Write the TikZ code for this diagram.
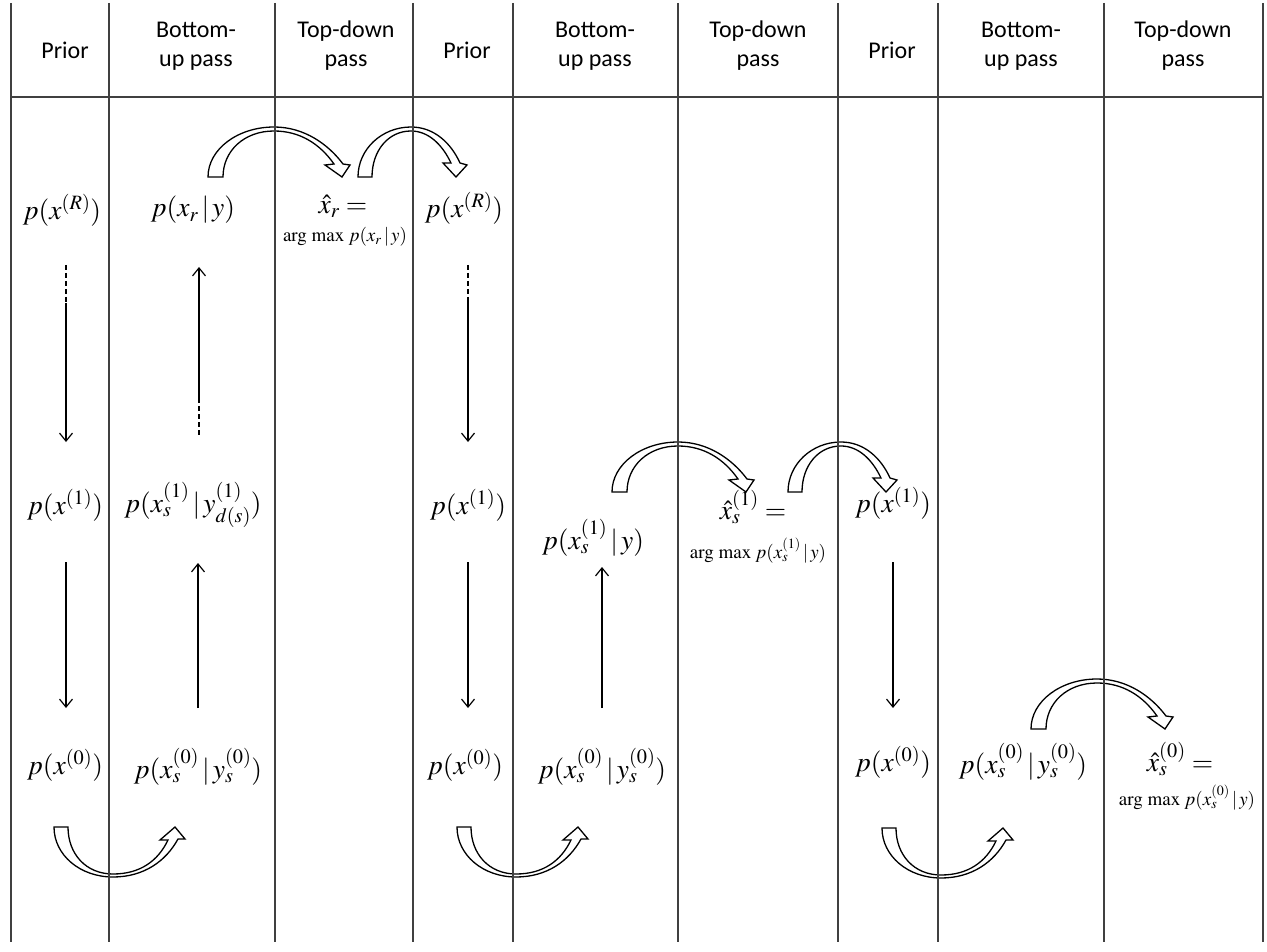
\documentclass[tikz,border=0pt]{standalone}
\usepackage{mathptmx}
\usepackage[no-math]{fontspec}
\setmainfont{Liberation Serif}
\newfontfamily\hdrfont{Carlito}
\usetikzlibrary{arrows.meta}

\tikzset{
  col/.style={draw=black!75, line width=1.3pt},
  flow/.style={line width=1.2pt, -{Straight Barb[length=8pt,width=13pt,line width=1.2pt]}},
  gapline/.style={line width=1.2pt, dash pattern=on 5pt off 3pt},
  barrow/.style={draw=black, line width=1.3pt, fill=white, line join=miter},
  hdr/.style={font=\hdrfont\fontsize{24}{29}\selectfont, align=center, inner sep=0pt},
  eq/.style={font=\fontsize{27.5}{30}\selectfont, inner sep=0pt},
  small/.style={font=\fontsize{19}{22}\selectfont, inner sep=0pt},
  % curved hollow arrow over a column border, long span
  longarc/.pic={
    \draw[barrow] (0,0) .. controls (0,-28) and (30,-50) .. (66,-50)
      .. controls (96,-50) and (120,-33) .. (135,-13)
      -- (142,-12) -- (134,0) -- (117,-12) -- (126,-13)
      .. controls (112,-33) and (92,-46) .. (66,-46)
      .. controls (36,-46) and (15,-26) .. (15,0) -- cycle;
  },
  % curved hollow arrow over a column border, short span
  shortarc/.pic={
    \draw[barrow] (0,0) .. controls (0,-28) and (24,-50) .. (53,-50)
      .. controls (76,-50) and (93,-34) .. (102,-14)
      -- (109,-12) -- (98,0) -- (85,-14) -- (93,-14)
      .. controls (84,-33) and (70,-46) .. (53,-46)
      .. controls (30,-46) and (14,-26) .. (14,0) -- cycle;
  },
  % curved hollow arrow below the bottom row
  lowarc/.pic={
    \draw[barrow] (0,0) .. controls (0,28) and (26,50) .. (59,50)
      .. controls (90,50) and (112,34) .. (124,12)
      -- (131,12) -- (121,0) -- (106,13) -- (114,13)
      .. controls (104,34) and (86,47) .. (59,47)
      .. controls (32,47) and (14,27) .. (14,0) -- cycle;
  },
}

\begin{document}
\begin{tikzpicture}[x=1pt,y=-1pt]
\useasboundingbox (0,0) rectangle (1267,952);

% hollow transfer arrows
\pic at (208,177) {longarc};
\pic at (358,177) {shortarc};
\pic at (612,492) {longarc};
\pic at (788,492) {shortarc};
\pic at (1031,729) {longarc};
\pic at (54,827) {lowarc};
\pic at (457,827) {lowarc};
\pic at (882,828) {lowarc};

% table rules
\foreach \x in {11,109,275,413,513,678,838,938,1104,1263}
  \draw[col] (\x,3) -- (\x,942);
\draw[col] (11,97) -- (1263,97);

% column headings
\node[hdr] (h1p) at (65,50) {Prior};
\node[hdr] (h1b) at (196,46) {Bottom-\\up pass};
\node[hdr] (h1t) at (346,46) {Top-down\\pass};
\node[hdr] (h2p) at (467,50) {Prior};
\node[hdr] (h2b) at (595,46) {Bottom-\\up pass};
\node[hdr] (h2t) at (758,46) {Top-down\\pass};
\node[hdr] (h3p) at (892,50) {Prior};
\node[hdr] (h3b) at (1021,46) {Bottom-\\up pass};
\node[hdr] (h3t) at (1183,46) {Top-down\\pass};

% first sweep
\node[eq] (aR) at (62,210) {$p(x^{(R)})$};
\node[eq] (aXr) at (193,210) {$p(x_r\,|\,y)$};
\node[eq] (aHat) at (343,206) {$\hat{x}_r =$};
\node[small] (aArg) at (345,237) {$\mathrm{arg\ max}\; p(x_r\,|\,y)$};
\node[eq] (a1) at (65,505) {$p(x^{(1)})$};
\node[eq] (aX1) at (193,505) {$p(x_s^{(1)}\,|\,y_{d(s)}^{(1)})$};
\node[eq] (a0) at (65,765) {$p(x^{(0)})$};
\node[eq] (aX0) at (198,767) {$p(x_s^{(0)}\,|\,y_s^{(0)})$};

% second sweep
\node[eq] (bR) at (464,208) {$p(x^{(R)})$};
\node[eq] (b1) at (468,505) {$p(x^{(1)})$};
\node[eq] (bX1) at (593,538) {$p(x_s^{(1)}\,|\,y)$};
\node[eq] (bHat) at (753,507) {$\hat{x}_s^{(1)} =$};
\node[small] (bArg) at (758,551) {$\mathrm{arg\ max}\; p(x_s^{(1)}\,|\,y)$};
\node[eq] (b0) at (465,765) {$p(x^{(0)})$};
\node[eq] (bX0) at (602,767) {$p(x_s^{(0)}\,|\,y_s^{(0)})$};

% third sweep
\node[eq] (c1) at (893,503) {$p(x^{(1)})$};
\node[eq] (c0) at (893,762) {$p(x^{(0)})$};
\node[eq] (cX0) at (1023,762) {$p(x_s^{(0)}\,|\,y_s^{(0)})$};
\node[eq] (cHat) at (1180,759) {$\hat{x}_s^{(0)} =$};
\node[small] (cArg) at (1187,798) {$\mathrm{arg\ max}\; p(x_s^{(0)}\,|\,y)$};

% arrow end points
\coordinate (aRd) at (66,265);  \coordinate (aRs) at (66,303);  \coordinate (aRe) at (66,442);
\coordinate (a1s) at (66,562);  \coordinate (a1e) at (66,708);
\coordinate (aUt) at (199,267); \coordinate (aUs) at (199,398); \coordinate (aUd) at (199,435);
\coordinate (aLb) at (198,708); \coordinate (aLt) at (198,563);
\coordinate (bRd) at (468,265); \coordinate (bRs) at (468,300); \coordinate (bRe) at (468,442);
\coordinate (b1s) at (468,562); \coordinate (b1e) at (468,708);
\coordinate (bLb) at (602,708); \coordinate (bLt) at (602,567);
\coordinate (c1s) at (893,562); \coordinate (c1e) at (893,708);

% message passing between levels
\draw[gapline] (aRd) -- (aRs);
\draw[flow] (aRs) -- (aRe);
\draw[flow] (a1s) -- (a1e);
\draw[gapline] (aUs) -- (aUd);
\draw[flow] (aUs) -- (aUt);
\draw[flow] (aLb) -- (aLt);
\draw[gapline] (bRd) -- (bRs);
\draw[flow] (bRs) -- (bRe);
\draw[flow] (b1s) -- (b1e);
\draw[flow] (bLb) -- (bLt);
\draw[flow] (c1s) -- (c1e);
\end{tikzpicture}
\end{document}
